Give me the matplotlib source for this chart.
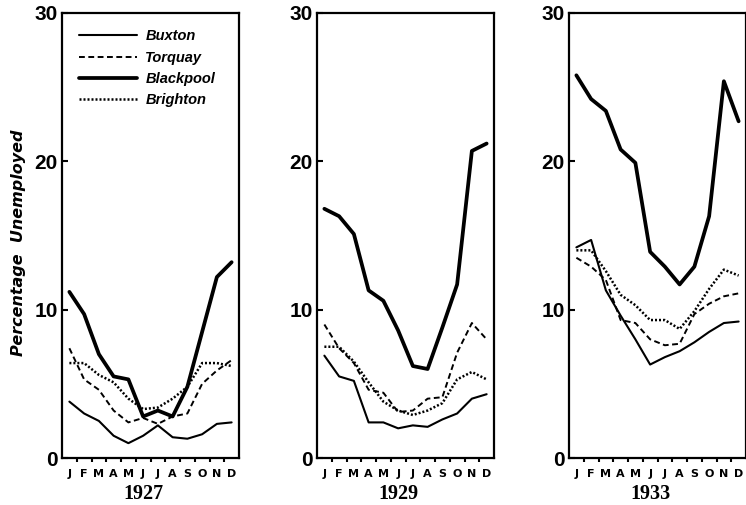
import matplotlib
matplotlib.use("Agg")
import matplotlib.pyplot as plt
import matplotlib.transforms as mtransforms
import numpy as np

months = ["J", "F", "M", "A", "M", "J", "J", "A", "S", "O", "N", "D"]
years = ["1927", "1929", "1933"]
towns = ["Buxton", "Torquay", "Blackpool", "Brighton"]

# percentage unemployed, one list per town and year
buxton_1927 = [3.8, 3.0, 2.5, 1.5, 1.0, 1.5, 2.2, 1.4, 1.3, 1.6, 2.3, 2.4]
torquay_1927 = [7.4, 5.3, 4.6, 3.2, 2.4, 2.7, 2.3, 2.8, 3.0, 5.0, 5.9, 6.6]
blackpool_1927 = [11.2, 9.7, 7.0, 5.5, 5.3, 2.8, 3.2, 2.8, 4.8, 8.5, 12.2, 13.2]
brighton_1927 = [6.4, 6.4, 5.6, 5.1, 4.0, 3.3, 3.4, 4.0, 4.8, 6.4, 6.4, 6.2]

buxton_1929 = [6.9, 5.5, 5.2, 2.4, 2.4, 2.0, 2.2, 2.1, 2.6, 3.0, 4.0, 4.3]
torquay_1929 = [9.0, 7.4, 6.4, 4.6, 4.4, 3.1, 3.2, 4.0, 4.1, 7.1, 9.1, 8.0]
blackpool_1929 = [16.8, 16.3, 15.1, 11.3, 10.6, 8.6, 6.2, 6.0, 8.8, 11.7, 20.7, 21.2]
brighton_1929 = [7.5, 7.5, 6.5, 5.1, 3.8, 3.2, 2.9, 3.2, 3.7, 5.3, 5.8, 5.3]

buxton_1933 = [14.2, 14.7, 11.3, 9.6, 8.0, 6.3, 6.8, 7.2, 7.8, 8.5, 9.1, 9.2]
torquay_1933 = [13.5, 12.9, 12.0, 9.3, 9.1, 8.0, 7.6, 7.7, 9.7, 10.4, 10.9, 11.1]
blackpool_1933 = [25.8, 24.2, 23.4, 20.8, 19.9, 13.9, 12.9, 11.7, 12.9, 16.3, 25.4, 22.7]
brighton_1933 = [14.0, 14.0, 12.6, 11.0, 10.3, 9.3, 9.3, 8.7, 9.9, 11.4, 12.7, 12.3]

panels = [
    [buxton_1927, torquay_1927, blackpool_1927, brighton_1927],
    [buxton_1929, torquay_1929, blackpool_1929, brighton_1929],
    [buxton_1933, torquay_1933, blackpool_1933, brighton_1933],
]

styles = {
    "Buxton": dict(lw=1.5, ls="-"),
    "Torquay": dict(lw=1.4, ls=(0, (3, 1.8))),
    "Blackpool": dict(lw=2.7, ls="-"),
    "Brighton": dict(lw=1.8, ls=(0, (0.8, 0.8))),
}

fig = plt.figure(figsize=(7.46, 5.05), dpi=100)
lefts = [62 / 746, 317 / 746, 569 / 746]
x = np.arange(12)

for k, (left, year, series) in enumerate(zip(lefts, years, panels)):
    ax = fig.add_axes([left, 47 / 505, 177 / 746, 445 / 505])
    for town, vals in zip(towns, series):
        ax.plot(x, vals, color="black", label=town, solid_capstyle="round",
                dash_capstyle="butt", **styles[town])
    ax.set_xlim(-0.5, 11.5)
    ax.set_ylim(0, 30)
    for s in ax.spines.values():
        s.set_linewidth(1.6)
    ax.set_yticks([0, 10, 20, 30])
    ax.set_yticklabels(["0", "10", "20", "30"], fontsize=15, fontweight="bold",
                       family="Liberation Sans")
    ax.tick_params(axis="y", direction="in", length=4, width=1.5, pad=3)
    ax.set_xticks(x)
    ax.set_xticklabels(months, fontsize=8, fontweight="heavy", family="DejaVu Sans")
    ax.set_xticks(np.arange(0.5, 11, 1), minor=True)
    ax.tick_params(axis="x", which="major", length=0, pad=8)
    ax.tick_params(axis="x", which="minor", direction="out", length=3, width=1.5)
    trans = mtransforms.blended_transform_factory(ax.transData, ax.transAxes)
    ax.text(5.0, -0.081, year, transform=trans, ha="center", va="center",
            fontsize=14.5, fontweight="bold", family="Liberation Serif")
    if k == 0:
        ax.set_ylabel("Percentage  Unemployed", fontsize=11.5, fontweight="bold",
                      style="italic")
        ax.yaxis.set_label_coords(-0.205, 0.483)
        ax.legend(loc="upper left", bbox_to_anchor=(0.096, 0.963), frameon=False,
                  borderpad=0, borderaxespad=0, handlelength=4.0,
                  handletextpad=0.55, labelspacing=0.5,
                  prop=dict(family="Liberation Sans", weight="bold",
                            style="italic", size=10.5))

fig.savefig("out.png", dpi=100)
